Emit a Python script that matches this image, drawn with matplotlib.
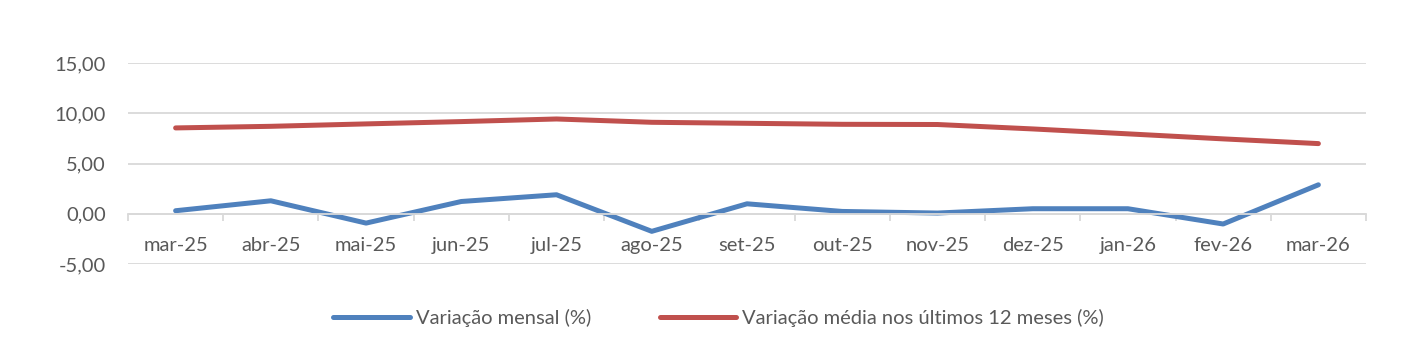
import matplotlib
matplotlib.use("Agg")
import matplotlib.pyplot as plt
from matplotlib.ticker import FuncFormatter, FixedLocator

categories = ["mar-25", "abr-25", "mai-25", "jun-25", "jul-25", "ago-25", "set-25",
              "out-25", "nov-25", "dez-25", "jan-26", "fev-26", "mar-26"]
mensal = [0.30, 1.29, -0.93, 1.22, 1.89, -1.75, 0.99, 0.23, 0.07, 0.50, 0.50, -1.02, 2.88]
media12 = [8.54, 8.70, 8.94, 9.17, 9.43, 9.10, 9.00, 8.90, 8.88, 8.44, 7.95, 7.45, 6.98]
label_mensal = "Variação mensal (%)"
label_media = "Variação média nos últimos 12 meses (%)"
yticks = [-5, 0, 5, 10, 15]

plt.rcParams['font.family'] = ['Lato', 'DejaVu Sans']
txt = '#595959'
fs = 14.5

fig = plt.figure(figsize=(14.2, 3.6), dpi=100)
ax = fig.add_axes([128/1420, 1-264/360, (1366-128)/1420, (264-63)/360])

x = list(range(len(categories)))
l1, = ax.plot(x, mensal, color='#4F81BD', lw=3.6, solid_capstyle='round', solid_joinstyle='round', label=label_mensal)
l2, = ax.plot(x, media12, color='#C0504D', lw=3.6, solid_capstyle='round', solid_joinstyle='round', label=label_media)

ax.set_xlim(-0.5, len(categories) - 0.5)
ax.set_ylim(-5, 15)
ax.set_yticks(yticks)
ax.yaxis.set_major_formatter(FuncFormatter(lambda v, p: f"{v:.2f}".replace('.', ',')))
ax.grid(axis='y', color='#D9D9D9', lw=1.3)
ax.set_axisbelow(True)
for s in ['top', 'right', 'left']:
    ax.spines[s].set_visible(False)
ax.spines['bottom'].set_position(('data', 0))
ax.spines['bottom'].set_color('#D9D9D9')
ax.spines['bottom'].set_linewidth(1.3)

ax.set_xticks(x)
ax.set_xticklabels(categories)
ax.xaxis.set_minor_locator(FixedLocator([i - 0.5 for i in range(len(categories) + 1)]))
ax.tick_params(axis='x', which='major', length=0, pad=17, labelsize=fs, labelcolor=txt)
ax.tick_params(axis='x', which='minor', length=5, width=1.3, color='#D9D9D9')
ax.tick_params(axis='y', length=0, pad=16, labelsize=fs, labelcolor=txt)

leg = fig.legend(handles=[l1, l2], loc='center', bbox_to_anchor=(0.506, 1-318/360), ncol=2,
                 frameon=False, fontsize=fs, handlelength=3.8, handletextpad=0.3,
                 columnspacing=3.4)
for t in leg.get_texts():
    t.set_color(txt)

fig.savefig("out.png", dpi=100)
